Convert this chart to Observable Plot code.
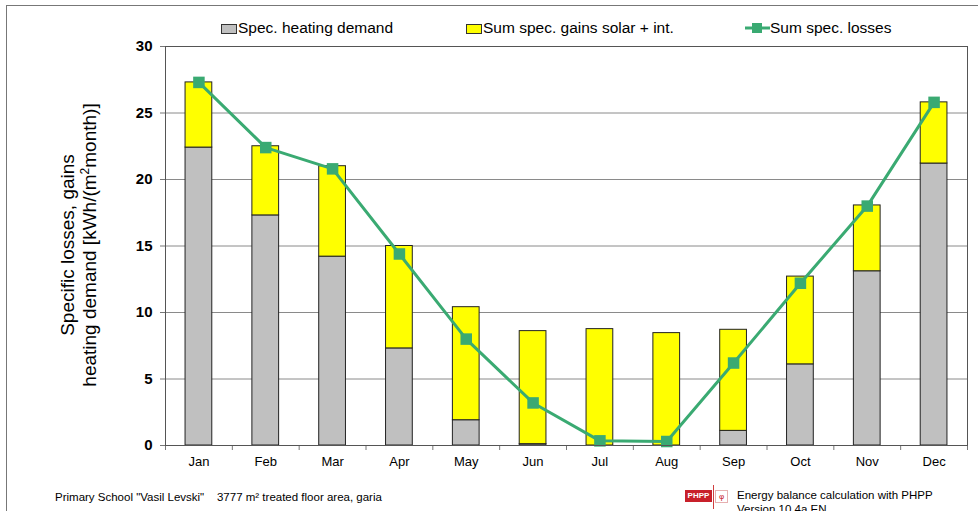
<!DOCTYPE html>
<html>
<head>
<meta charset="utf-8">
<script src="https://cdn.jsdelivr.net/npm/d3@7"></script>
<script src="https://cdn.jsdelivr.net/npm/@observablehq/plot@0.6"></script>
<style>
  html, body { margin: 0; padding: 0; background: #fff; overflow: hidden; }
  #wrap { position: relative; width: 978px; height: 511px; font-family: "Liberation Sans", Arial, sans-serif; }
  #wrap > svg { position: absolute; left: 0; top: 0; }
  .abs { position: absolute; white-space: nowrap; color: #000; }
  .legend { top: 19px; font-size: 15.5px; line-height: 18px; }
  .sw { display: inline-block; vertical-align: -1px; width: 14px; height: 8px; border: 1px solid #333; margin-right: 1px; }
  .foot { font-size: 11.5px; line-height: 13px; }
</style>
</head>
<body>
<div id="wrap"></div>
<script>
const months = ["Jan","Feb","Mar","Apr","May","Jun","Jul","Aug","Sep","Oct","Nov","Dec"];
const heatingDemand = [22.4, 17.3, 14.2, 7.3, 1.9, 0.1, 0, 0, 1.1, 6.1, 13.1, 21.2];
const totalGainsTop = [27.3, 22.5, 21.0, 15.0, 10.4, 8.6, 8.75, 8.45, 8.7, 12.7, 18.05, 25.8];
const losses = [27.3, 22.4, 20.8, 14.4, 8.0, 3.2, 0.35, 0.3, 6.2, 12.2, 18.0, 25.8];
const seriesNames = ["Spec. heating demand", "Sum spec. gains solar + int."];
const seriesColors = ["#c0c0c0", "#ffff00"];
const lossesName = "Sum spec. losses";
const lossesColor = "#3aaa72";
const yTicks = [0, 5, 10, 15, 20, 25, 30];
const yLabelLines = ["Specific losses, gains", "heating demand [kWh/(m²month)]"];
const footLeft = "Primary School \"Vasil Levski\"\u00a0\u00a0\u00a0\u00a03777 m² treated floor area, garia";
const footRight = ["Energy balance calculation with PHPP", "Version 10.4a EN"];

const stackRows = [];
months.forEach((m, i) => {
  stackRows.push({month: m, series: seriesNames[0], value: heatingDemand[i]});
  stackRows.push({month: m, series: seriesNames[1], value: totalGainsTop[i] - heatingDemand[i]});
});
const lossRows = months.map((m, i) => ({month: m, value: losses[i]}));

const W = 978, H = 511, mL = 165, mR = 11, mT = 46, mB = 66;
const step = (W - mL - mR) / months.length;
const plotH = H - mT - mB;

const chart = Plot.plot({
  width: W, height: H,
  marginLeft: mL, marginRight: mR, marginTop: mT, marginBottom: mB,
  style: {fontFamily: "Liberation Sans, Arial, sans-serif", background: "transparent"},
  x: {domain: months, paddingInner: 0.6, paddingOuter: 0.3, round: false, label: null},
  y: {domain: [0, 30], label: null},
  color: {domain: seriesNames, range: seriesColors},
  marks: [
    Plot.gridY(yTicks, {stroke: "#8a8a8a", strokeOpacity: 1, strokeWidth: 1}),
    Plot.axisY(yTicks, {tickSize: 5, tickPadding: 8, fontSize: 15, fontWeight: "bold", stroke: "#777", color: "#000", tickFormat: d => d, label: null}),
    Plot.barY(stackRows, {x: "month", y: "value", fill: "series", order: seriesNames, stroke: "#222", strokeWidth: 1}),
    Plot.ruleX(months, {x: d => d, dx: -step / 2, insetTop: plotH, insetBottom: -5, stroke: "#777"}),
    Plot.ruleX([months[months.length - 1]], {x: d => d, dx: step / 2, insetTop: plotH, insetBottom: -5, stroke: "#777"}),
    Plot.axisX({tickSize: 0, tickPadding: 11, fontSize: 13, color: "#000", label: null}),
    Plot.line(lossRows, {x: "month", y: "value", stroke: lossesColor, strokeWidth: 3}),
    Plot.dot(lossRows, {x: "month", y: "value", symbol: "square", r: 6.5, fill: lossesColor, stroke: "none"}),
    Plot.frame({stroke: "#555", strokeWidth: 1})
  ]
});

const wrap = document.getElementById("wrap");
wrap.appendChild(chart);

// outer frame lines (top and left)
const frameTop = document.createElement("div");
frameTop.className = "abs";
frameTop.style.cssText = "left:6px;top:5px;width:972px;height:0;border-top:1px solid #777;";
wrap.appendChild(frameTop);
const frameLeft = document.createElement("div");
frameLeft.className = "abs";
frameLeft.style.cssText = "left:6px;top:5px;width:0;height:506px;border-left:1px solid #777;";
wrap.appendChild(frameLeft);

// legend
function legendItem(left, swatchHTML, text) {
  const d = document.createElement("div");
  d.className = "abs legend";
  d.style.left = left + "px";
  d.innerHTML = swatchHTML + "<span>" + text + "</span>";
  wrap.appendChild(d);
}
legendItem(221, `<span class="sw" style="background:${seriesColors[0]}"></span>`, seriesNames[0]);
legendItem(466, `<span class="sw" style="background:${seriesColors[1]}"></span>`, seriesNames[1]);
legendItem(745, `<svg width="25" height="12" style="vertical-align:-1px"><line x1="0" y1="6" x2="25" y2="6" stroke="${lossesColor}" stroke-width="3"/><rect x="7" y="1" width="10" height="10" fill="${lossesColor}"/></svg>`, lossesName);

// y-axis title
const yt = document.createElement("div");
yt.className = "abs";
yt.style.cssText = "left:79px;top:245px;transform:translate(-50%,-50%) rotate(-90deg);font-size:19px;line-height:22px;text-align:center;";
yt.innerHTML = yLabelLines.map(s => s.replace("m²", "m<sup style='font-size:12px;line-height:0'>2</sup>")).join("<br>");
wrap.appendChild(yt);

// footer left
const fl = document.createElement("div");
fl.className = "abs foot";
fl.style.cssText = "left:55px;top:491px;";
fl.textContent = footLeft;
wrap.appendChild(fl);

// PHPP logo
const logo = document.createElement("div");
logo.className = "abs";
logo.style.cssText = "left:685px;top:490px;width:27px;height:12px;background:#c8202a;color:#fff;font-size:8px;font-weight:bold;line-height:12px;text-align:center;";
logo.textContent = "PHPP";
wrap.appendChild(logo);
const logoLine = document.createElement("div");
logoLine.className = "abs";
logoLine.style.cssText = "left:713px;top:485px;width:0;height:24px;border-left:1px solid #d04040;";
wrap.appendChild(logoLine);
const logo2 = document.createElement("div");
logo2.className = "abs";
logo2.style.cssText = "left:715px;top:490px;width:11px;height:11px;border:1px solid #e6b0b0;color:#c8202a;font-size:8px;line-height:11px;text-align:center;";
logo2.textContent = "\u03c6";
wrap.appendChild(logo2);

// footer right
const fr = document.createElement("div");
fr.className = "abs foot";
fr.style.cssText = "left:737px;top:488px;line-height:14px;font-size:11.5px;";
fr.innerHTML = footRight.join("<br>");
wrap.appendChild(fr);
</script>
</body>
</html>
